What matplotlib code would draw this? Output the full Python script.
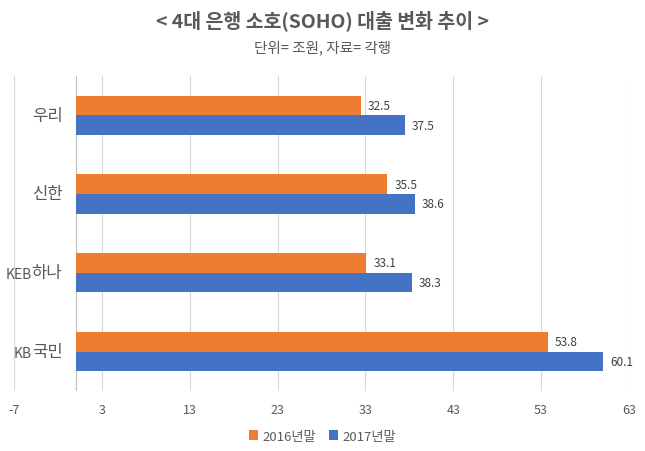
import numpy as np
import matplotlib.pyplot as plt
from matplotlib.transforms import offset_copy

plt.rcParams['font.family'] = ['Noto Sans CJK KR', 'DejaVu Sans']

# data (bottom to top)
prefixes = ['KB', 'KEB', '', '']
banks = ['국민', '하나', '신한', '우리']
end_2016 = [53.8, 33.1, 35.5, 32.5]
end_2017 = [60.1, 38.3, 38.6, 37.5]
series_names = ['2016년말', '2017년말']
xticks = [-7, 3, 13, 23, 33, 43, 53, 63]

orange = '#ED7D31'
blue = '#4472C4'
text_col = '#595959'

fig = plt.figure(figsize=(6.45, 4.52), dpi=100)
ax = fig.add_axes([0.022, 0.133, 0.953, 0.697])

y = np.arange(len(banks))
h = 0.25
b1 = ax.barh(y + h / 2, end_2016, height=h, color=orange, label=series_names[0], zorder=3)
b2 = ax.barh(y - h / 2, end_2017, height=h, color=blue, label=series_names[1], zorder=3)

for bars in (b1, b2):
    for rect in bars:
        w = rect.get_width()
        ax.text(w + 0.8, rect.get_y() + rect.get_height() / 2, f'{w:.1f}',
                va='center', ha='left', fontsize=8.5, color='#404040')

ax.set_xlim(-7, 63)
ax.set_ylim(-0.5, 3.5)
ax.set_xticks(xticks)
ax.set_xticklabels([str(t) for t in xticks], fontsize=9, color=text_col)
ax.set_yticks([])
ax.grid(axis='x', color='#D9D9D9', linewidth=0.8, zorder=0)
ax.axvline(0, color='#BFBFBF', linewidth=0.8, zorder=2)
for s in ax.spines.values():
    s.set_visible(False)
ax.tick_params(axis='x', length=0, pad=9)

# category labels: korean part bigger, latin prefix smaller
renderer = fig.canvas.get_renderer()
for yi, pre, name in zip(y, prefixes, banks):
    t = ax.text(-1.5, yi, name, ha='right', va='center', fontsize=12, color=text_col)
    if pre:
        wpx = t.get_window_extent(renderer).width
        tr = offset_copy(ax.transData, fig=fig, x=-wpx * 72 / fig.dpi, y=-1,
                         units='points')
        ax.text(-1.5, yi, pre, ha='right', va='center', fontsize=10,
                color=text_col, transform=tr)

fig.text(0.5, 0.955, '< 4대 은행 소호(SOHO) 대출 변화 추이 >', ha='center', va='center',
         fontsize=14, fontweight='bold', color=text_col)
fig.text(0.5, 0.895, '단위= 조원, 자료= 각행', ha='center', va='center',
         fontsize=10.5, color=text_col)

fig.legend(handles=[b1, b2], loc='center', bbox_to_anchor=(0.5, 0.033), ncol=2,
           frameon=False, fontsize=9.5, handlelength=0.7, handleheight=0.7,
           handletextpad=0.3, columnspacing=1.0, labelcolor=text_col)

fig.savefig('out.png', dpi=100)
